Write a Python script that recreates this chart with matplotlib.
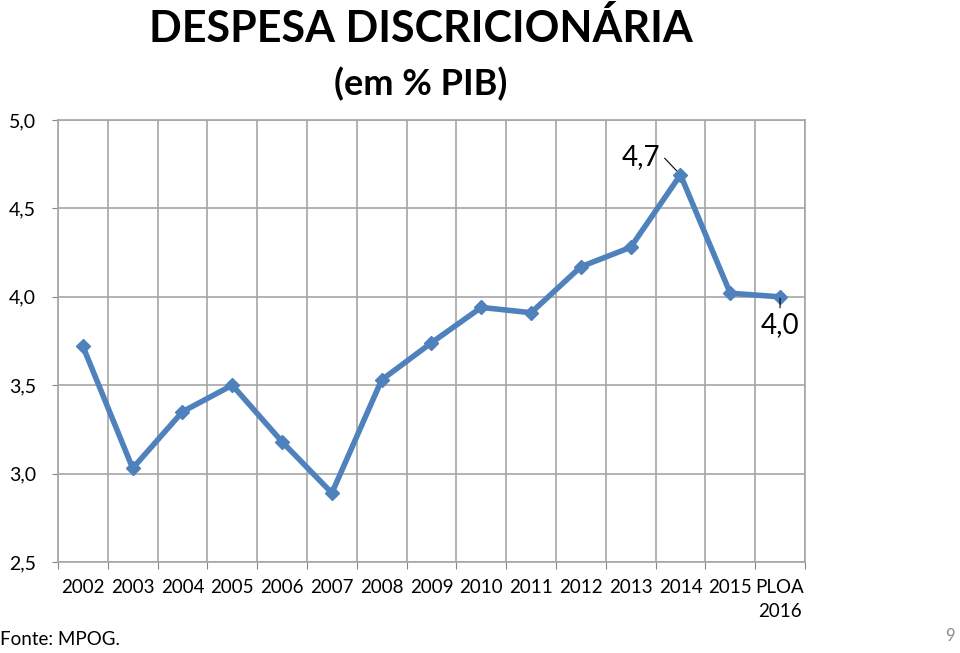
import matplotlib.pyplot as plt
import numpy as np

plt.rcParams['font.family'] = ['Lato', 'DejaVu Sans']

# dados
anos = ["2002", "2003", "2004", "2005", "2006", "2007", "2008", "2009",
        "2010", "2011", "2012", "2013", "2014", "2015", "PLOA\n2016"]
despesa = [3.72, 3.03, 3.35, 3.50, 3.18, 2.89, 3.53, 3.74,
           3.94, 3.91, 4.17, 4.28, 4.69, 4.02, 4.00]
yticks = [2.5, 3.0, 3.5, 4.0, 4.5, 5.0]

fig = plt.figure(figsize=(9.6, 6.53), dpi=100)
ax = fig.add_axes([0.0604, 0.1394, 0.7781, 0.6768])

x = np.arange(len(anos))
ax.plot(x, despesa, color="#4F81BD", lw=4.0, marker="D", ms=7.5,
        solid_joinstyle="miter", zorder=3)

ax.set_xlim(-0.5, len(anos) - 0.5)
ax.set_ylim(2.5, 5.0)
ax.set_yticks(yticks)
ax.set_yticklabels([("%.1f" % v).replace(".", ",") for v in yticks], fontsize=14)

# grade vertical nas fronteiras das categorias
ax.set_xticks(np.arange(len(anos) + 1) - 0.5)
ax.set_xticklabels([])
ax.set_xticks(x, minor=True)
ax.set_xticklabels(anos, minor=True, fontsize=13.5, linespacing=1.55,
                   multialignment="center")
ax.tick_params(axis="x", which="minor", length=0, pad=12)
ax.tick_params(axis="x", which="major", length=5, color="#868686")
ax.tick_params(axis="y", length=4, color="#868686", pad=12)

ax.grid(True, which="major", color="#A6A6A6", lw=1.2)
for s in ax.spines.values():
    s.set_color("#A6A6A6")
    s.set_linewidth(1.2)
ax.set_axisbelow(True)

# rotulos de dados
i_max = 12
ax.annotate("4,7", xy=(x[i_max], despesa[i_max]), xytext=(x[i_max] - 0.8, 4.79),
            fontsize=20, ha="center", va="center",
            arrowprops=dict(arrowstyle="-", color="black", lw=0.8,
                            relpos=(1.0, 0.65), shrinkA=2, shrinkB=4))
ax.annotate("4,0", xy=(x[-1], despesa[-1]), xytext=(x[-1], 3.84),
            fontsize=20, ha="center", va="center",
            arrowprops=dict(arrowstyle="-", color="black", lw=0.8,
                            relpos=(0.5, 1.0), shrinkA=1, shrinkB=1))

fig.text(0.438, 0.956, "DESPESA DISCRICIONÁRIA", fontsize=31, fontweight="bold",
         ha="center", va="center")
fig.text(0.438, 0.872, "(em % PIB)", fontsize=26, fontweight="bold",
         ha="center", va="center")
fig.text(0.0, 0.02, "Fonte: MPOG.", fontsize=13.5, ha="left", va="center")
fig.text(0.995, 0.026, "9", fontsize=12, color="#8C8C8C", ha="right", va="center")

plt.savefig("out.png", dpi=100)
